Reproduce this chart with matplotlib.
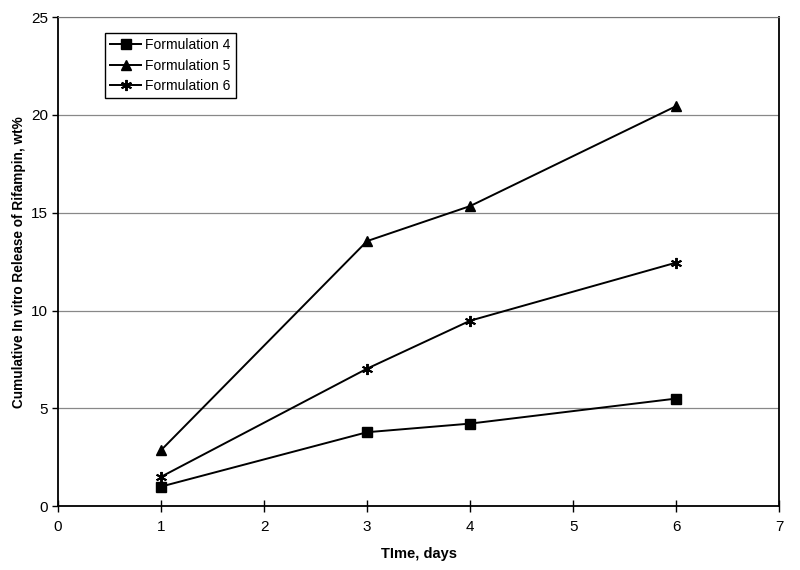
import matplotlib
matplotlib.use('Agg')
from matplotlib.pyplot import subplots

days = [1, 3, 4, 6]
form_4 = [1.0, 3.78, 4.22, 5.5]
form_5 = [2.86, 13.55, 15.34, 20.45]
form_6 = [1.5, 7.03, 9.48, 12.45]
labels = ['Formulation 4', 'Formulation 5', 'Formulation 6']

matplotlib.rcParams['font.family'] = ['Liberation Sans', 'DejaVu Sans']

fig, ax = subplots(figsize=(8, 5.7), dpi=100)
fig.subplots_adjust(left=0.0725, right=0.974, bottom=0.112, top=0.970)

ax.plot(days, form_4, color='black', lw=1.4, marker='s', ms=6.5, label=labels[0])
ax.plot(days, form_5, color='black', lw=1.4, marker='^', ms=7, label=labels[1])
ax.plot(days, form_6, color='black', lw=1.4, marker=(6, 2, 0), ms=8, mew=1.4, label=labels[2])

ax.set_xlim(0, 7)
ax.set_ylim(0, 25)
ax.set_xticks(range(0, 8))
ax.set_yticks(range(0, 26, 5))
ax.yaxis.grid(True, color='#888888', lw=0.9)
ax.set_axisbelow(True)

ax.tick_params(axis='x', direction='inout', length=8, width=1, labelsize=11, pad=6)
ax.tick_params(axis='y', direction='out', length=4, width=1, labelsize=11, pad=3)

for side in ['left', 'bottom', 'right']:
    ax.spines[side].set_linewidth(1.3)
ax.spines['top'].set_color('#777777')

ax.set_xlabel('TIme, days', fontsize=10.5, fontweight='bold', labelpad=9)
ax.set_ylabel('Cumulative In vitro Release of Rifampin, wt%', fontsize=9.8,
              fontweight='bold', labelpad=4)

leg = ax.legend(loc='upper left', bbox_to_anchor=(0.065, 0.968), borderaxespad=0,
                fontsize=10, fancybox=False, framealpha=1, edgecolor='black',
                handlelength=2.2, handletextpad=0.3, borderpad=0.4, labelspacing=0.45)
leg.get_frame().set_linewidth(1.0)

fig.savefig('out.png')
